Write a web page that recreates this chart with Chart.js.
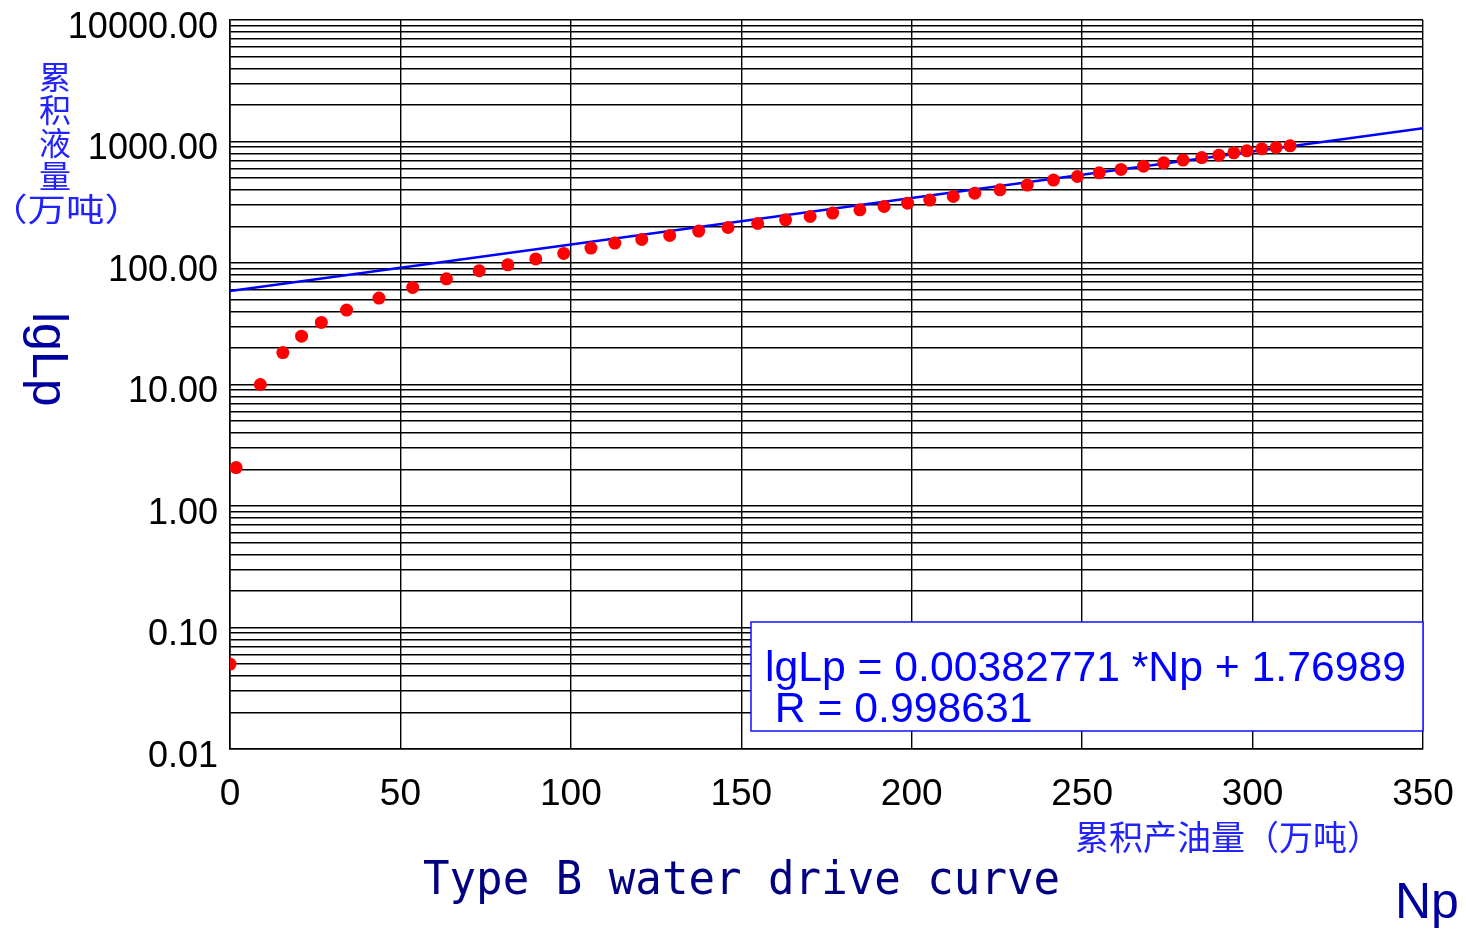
<!DOCTYPE html>
<html>
<head>
<meta charset="utf-8">
<script src="https://cdn.jsdelivr.net/npm/chart.js@4/dist/chart.umd.min.js"></script>
<style>
    body { margin: 0; background: #fff; }
    canvas { display: block; }
</style>
</head>
<body>
<canvas id="chart" width="1466" height="929"></canvas>
<script>
// Data
const npValues = [0, 1.8, 8.9, 15.5, 21.0, 26.8, 34.2, 43.7, 53.6, 63.5, 73.1, 81.5, 89.7, 97.9, 105.9, 112.9,
    120.8, 129.0, 137.5, 146.1, 154.8, 163.0, 170.2, 176.8, 184.8, 191.9, 198.8, 205.3, 212.2, 218.5, 225.9,
    233.9, 241.6, 248.6, 255.0, 261.4, 268.0, 273.9, 279.6, 285.1, 290.1, 294.5, 298.3, 302.7, 306.9, 311.0];
const lpValues = [0.05, 2.07, 10.0, 18.3, 25.0, 32.4, 41.0, 51.4, 62.9, 74.1, 86.3, 96.6, 108, 119.8, 132.7, 145.9,
    156.2, 168.4, 183.2, 196.0, 211.4, 226.8, 241.5, 257.5, 274, 291.7, 311, 329.5, 352.6, 375.6, 400,
    437.6, 481, 515, 552, 589, 627, 668, 703, 738, 772, 807, 838, 870, 893, 922];

// regression line end points
const fitNp = [0, 350];
const fitLp = [58.9, 1287];

const yDecades = [0.01, 0.1, 1, 10, 100, 1000, 10000];
const xTicks = [0, 50, 100, 150, 200, 250, 300, 350];

const equationText = 'lgLp = 0.00382771 *Np + 1.76989';
const rText = ' R = 0.998631';
const yTitleCn = ['累', '积', '液', '量'];
const yTitleCnUnit = '（万吨）';
const xTitleCn = '累积产油量（万吨）';
const chartTitle = 'Type B water drive curve';

const fontFamily = "'Liberation Sans', Arial, sans-serif";

const decorations = {
    id: 'decorations',
    afterDraw(chart) {
        const ctx = chart.ctx;
        ctx.save();

        // equation box
        ctx.fillStyle = '#fff';
        ctx.fillRect(751, 622, 672, 109);
        ctx.strokeStyle = '#1010ff';
        ctx.lineWidth = 1.5;
        ctx.strokeRect(751, 622, 672, 109);
        ctx.fillStyle = '#0000ff';
        ctx.font = "42.7px " + fontFamily;
        ctx.textAlign = 'left';
        ctx.textBaseline = 'alphabetic';
        ctx.fillText(equationText, 765, 681);
        ctx.fillText(rText, 763, 722);

        // left chinese title, stacked
        ctx.fillStyle = '#2222ff';
        ctx.font = "32px 'Noto Sans CJK SC', sans-serif";
        ctx.textAlign = 'center';
        ctx.textBaseline = 'middle';
        yTitleCn.forEach((ch, i) => ctx.fillText(ch, 55, 77 + i * 33));
        ctx.save();
        ctx.translate(66, 209);
        ctx.scale(1.2, 1);
        ctx.fillText(yTitleCnUnit, 0, 0);
        ctx.restore();

        // x chinese title
        ctx.font = "34px 'Noto Sans CJK SC', sans-serif";
        ctx.textAlign = 'left';
        ctx.fillText(xTitleCn, 1075, 837);

        // rotated lgLp
        ctx.fillStyle = '#0000a0';
        ctx.font = "50px " + fontFamily;
        ctx.save();
        ctx.translate(33, 312);
        ctx.rotate(Math.PI / 2);
        ctx.textAlign = 'left';
        ctx.textBaseline = 'alphabetic';
        ctx.fillText('lgLp', 0, 0);
        ctx.restore();

        // Np
        ctx.textAlign = 'left';
        ctx.textBaseline = 'alphabetic';
        ctx.fillText('Np', 1395, 918);

        // bottom title, monospace squeezed to width
        ctx.fillStyle = '#000080';
        ctx.font = "46px 'DejaVu Sans Mono', monospace";
        const w = ctx.measureText(chartTitle).width;
        ctx.save();
        ctx.translate(423, 894);
        ctx.scale(637 / w, 1);
        ctx.fillText(chartTitle, 0, 0);
        ctx.restore();

        ctx.restore();
    }
};

new Chart(document.getElementById('chart'), {
    type: 'scatter',
    data: {
        datasets: [
            {
                type: 'line',
                data: fitNp.map((x, i) => ({ x: x, y: fitLp[i] })),
                borderColor: '#0000ff',
                borderWidth: 2.5,
                pointRadius: 0,
                fill: false,
                order: 2
            },
            {
                data: npValues.map((x, i) => ({ x: x, y: lpValues[i] })),
                backgroundColor: '#ff0000',
                borderWidth: 0,
                pointRadius: 6.5,
                order: 1
            }
        ]
    },
    options: {
        responsive: false,
        animation: false,
        layout: { padding: { top: 20, right: 43, left: 0, bottom: 0 } },
        plugins: { legend: { display: false }, tooltip: { enabled: false } },
        scales: {
            x: {
                type: 'linear',
                min: 0,
                max: 350,
                afterBuildTicks: scale => { scale.ticks = xTicks.map(v => ({ value: v })); },
                afterFit: scale => {
                    scale.height = 180;
                    scale.paddingLeft = 0; scale.paddingRight = 0;
                },
                grid: { color: '#000', lineWidth: 1.4, drawTicks: false },
                border: { color: '#000', width: 1.6 },
                ticks: { color: '#000', font: { family: fontFamily, size: 37 }, padding: 24, maxRotation: 0, autoSkip: false }
            },
            y: {
                type: 'logarithmic',
                min: 0.01,
                max: 10000,
                afterBuildTicks: scale => {
                    const t = [];
                    yDecades.forEach((d, i) => {
                        t.push({ value: d, decade: true });
                        if (i < yDecades.length - 1) {
                            for (let m = 2; m <= 9; m++) t.push({ value: d * m, decade: false });
                        }
                    });
                    scale.ticks = t;
                },
                afterFit: scale => {
                    scale.width = 230;
                    scale.paddingTop = 0; scale.paddingBottom = 0;
                },
                grid: { color: '#000', lineWidth: 1.4, drawTicks: false },
                border: { color: '#000', width: 1.6 },
                ticks: {
                    color: '#000',
                    font: { family: fontFamily, size: 36 },
                    padding: 12,
                    labelOffset: 8,
                    autoSkip: false,
                    callback: (value, index, ticks) => ticks[index].decade ? value.toFixed(2) : ''
                }
            }
        }
    },
    plugins: [decorations]
});
</script>
</body>
</html>
